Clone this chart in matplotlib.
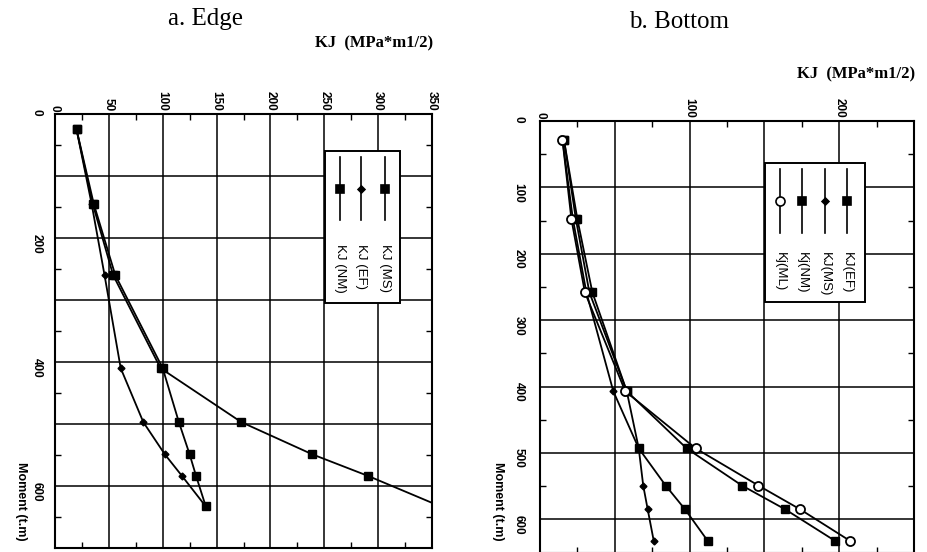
import matplotlib.pyplot as plt
from matplotlib.patches import Rectangle
from matplotlib.ticker import MultipleLocator

# Edge panel data (Moment in t.m, KJ in MPa*m1/2)
edge_moment = [25, 145, 260, 410, 497, 549, 584, 633]
edge_ms = [20, 35, 54, 98, 173, 239, 291, 358]
edge_ef = [20, 34, 46, 61, 82, 102, 118, 140]
edge_nm = [20, 36, 56, 100, 115, 125, 131, 140]
edge_labels = ['KJ (NM)', 'KJ (EF)', 'KJ (MS)']

# Bottom panel data
bottom_moment = [28, 148, 258, 407, 493, 549, 585, 632]
bottom_ef = [16, 25, 35, 58, 98, 135, 164, 197]
bottom_ms = [15, 22, 31, 49, 66, 69, 72, 76]
bottom_nm = [16, 24, 33, 58, 66, 84, 97, 112]
bottom_ml = [15, 21, 30, 57, 104, 146, 174, 207]
bottom_labels = ['Kj(ML)', 'Kj(NM)', 'KJ(MS)', 'KJ(EF)']

edge_xticks = [0, 50, 100, 150, 200, 250, 300, 350]
edge_yticks = [0, 200, 400, 600]
bottom_xticks = [0, 100, 200]
bottom_yticks = [0, 100, 200, 300, 400, 500, 600]

W, H = 927, 552
fig = plt.figure(figsize=(W / 100, H / 100), dpi=100)


def px_box(left, top, right, bottom):
    return [left / W, 1 - bottom / H, (right - left) / W, (bottom - top) / H]


def style_axes(ax, xmax, ymax, xgrid, ygrid, xminor, yminor, xticks, yticks, ypad):
    ax.set_xlim(0, xmax)
    ax.set_ylim(ymax, 0)
    ax.xaxis.set_major_locator(MultipleLocator(xgrid))
    ax.yaxis.set_major_locator(MultipleLocator(ygrid))
    ax.xaxis.set_minor_locator(MultipleLocator(xminor))
    ax.yaxis.set_minor_locator(MultipleLocator(yminor))
    ax.grid(True, which='major', color='black', lw=1.1)
    ax.set_axisbelow(True)
    ax.xaxis.set_major_formatter(
        plt.FuncFormatter(lambda v, p: f'{v:g}' if v in xticks else ''))
    ax.yaxis.set_major_formatter(
        plt.FuncFormatter(lambda v, p: f'{v:g}' if v in yticks else ''))
    ax.tick_params(which='both', direction='in', top=True, bottom=True,
                   left=True, right=True, labeltop=True, labelbottom=False)
    ax.tick_params(which='major', length=0)
    ax.tick_params(which='minor', length=4, width=1)
    ax.tick_params(axis='x', which='major', pad=2, labelrotation=-90)
    ax.tick_params(axis='y', which='major', pad=ypad, labelrotation=-90)
    for lab in ax.get_xticklabels() + ax.get_yticklabels():
        lab.set_fontfamily('Liberation Sans')
        lab.set_fontweight('bold')
        lab.set_fontsize(8.5)
    for s in ax.spines.values():
        s.set_linewidth(1.5)


def draw_legend(ax, box, cols, line_span, text_top, labels, markers, fills,
                sizes, fsize):
    x0, y0, x1, y1 = box
    ax.add_patch(Rectangle((x0, y0), x1 - x0, y1 - y0, transform=ax.transAxes,
                           facecolor='white', edgecolor='black', lw=1.4,
                           zorder=5, clip_on=False))
    lb, lt = line_span
    for x, lab, mk, fc, ms in zip(cols, labels, markers, fills, sizes):
        ax.plot([x, x], [lb, lt], transform=ax.transAxes, color='black',
                lw=1.2, zorder=6, clip_on=False)
        ax.plot([x], [(lb + lt) / 2], transform=ax.transAxes, marker=mk,
                ms=ms, mfc=fc, mec='black', mew=1.2, zorder=7, clip_on=False)
        ax.text(x, text_top, lab, rotation=-90, ha='center', va='top',
                transform=ax.transAxes, fontsize=fsize,
                family='Liberation Sans', zorder=7)


line_kw = dict(color='black', lw=1.3, zorder=3)

# ---- a. Edge
ax1 = fig.add_axes(px_box(55, 114, 432, 548))
style_axes(ax1, 350, 700, 50, 100, 25, 50, edge_xticks, edge_yticks, 9)
ax1.plot(edge_ms, edge_moment, marker='s', ms=5.5, **line_kw)
ax1.plot(edge_ef, edge_moment, marker='D', ms=3.5, **line_kw)
ax1.plot(edge_nm, edge_moment, marker='s', ms=5.5, **line_kw)
draw_legend(ax1, (0.716, 0.564, 0.915, 0.914), [0.756, 0.812, 0.875],
            (0.755, 0.901), 0.70, edge_labels, ['s', 'D', 's'],
            ['black'] * 3, [5.5, 3.5, 5.5], 9.5)

# ---- b. Bottom
ax2 = fig.add_axes(px_box(540, 121, 914, 552.6))
style_axes(ax2, 250, 650, 50, 100, 25, 50, bottom_xticks, bottom_yticks, 11)
ax2.plot(bottom_ef, bottom_moment, marker='s', ms=5.5, **line_kw)
ax2.plot(bottom_ms, bottom_moment, marker='D', ms=3.5, **line_kw)
ax2.plot(bottom_nm, bottom_moment, marker='s', ms=5.5, **line_kw)
ax2.plot(bottom_ml, bottom_moment, marker='o', ms=6.5, mfc='white', mew=1.3,
         **line_kw)
draw_legend(ax2, (0.602, 0.581, 0.869, 0.903), [0.642, 0.70, 0.762, 0.821],
            (0.74, 0.889), 0.696, bottom_labels, ['o', 's', 'D', 's'],
            ['white', 'black', 'black', 'black'], [6.5, 5.5, 3.5, 5.5], 9.5)

# titles and axis captions
fig.text(205 / W, 1 - 19 / H, 'a. Edge', ha='center', va='center',
         family='Liberation Serif', fontsize=18)
fig.text(679 / W, 1 - 22 / H, 'b. Bottom', ha='center', va='center',
         family='Liberation Serif', fontsize=18)
fig.text(433 / W, 1 - 43 / H, 'KJ  (MPa*m1/2)', ha='right', va='center',
         family='Liberation Serif', fontweight='bold', fontsize=12)
fig.text(915 / W, 1 - 74 / H, 'KJ  (MPa*m1/2)', ha='right', va='center',
         family='Liberation Serif', fontweight='bold', fontsize=12)
fig.text(21 / W, 1 - 462 / H, 'Moment (t.m)', ha='center', va='top',
         rotation=-90, family='Liberation Sans', fontweight='bold', fontsize=9)
fig.text(498 / W, 1 - 462 / H, 'Moment (t.m)', ha='center', va='top',
         rotation=-90, family='Liberation Sans', fontweight='bold', fontsize=9)

fig.savefig('out.png', dpi=100)
